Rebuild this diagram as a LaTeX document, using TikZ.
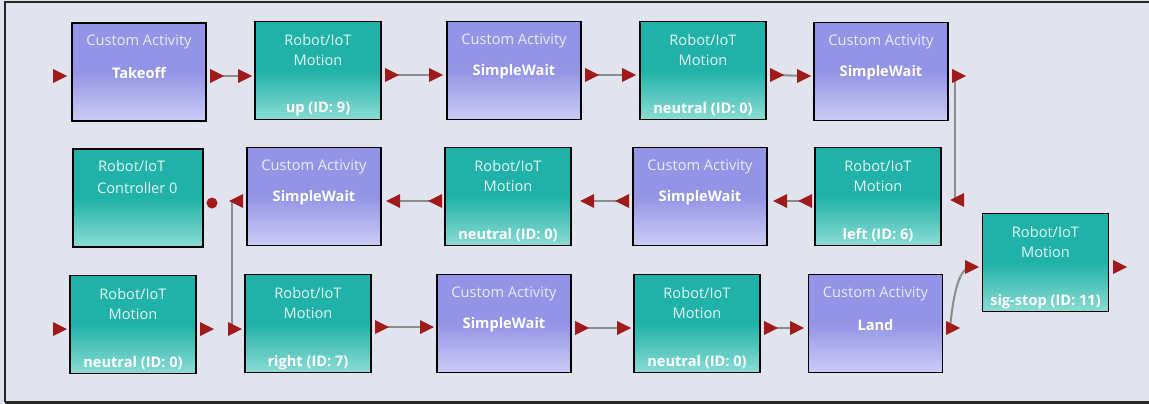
\documentclass[tikz,border=0pt]{standalone}
\usepackage{fontspec}
\setmainfont{Open Sans}
\pgfdeclarelayer{bg}
\pgfdeclarelayer{conn}
\pgfsetlayers{bg,conn,main}
\definecolor{pagebg}{HTML}{E1E4EE}
\definecolor{actTop}{HTML}{9494E6}
\definecolor{actBot}{HTML}{CCCCF6}
\definecolor{motTop}{HTML}{20B2A8}
\definecolor{motBot}{HTML}{8CDCD4}
\definecolor{actText}{HTML}{EAEAFF}
\definecolor{motText}{HTML}{E4F8F4}
\definecolor{portred}{HTML}{A01A1A}
\definecolor{conngray}{HTML}{8C8C8C}
\tikzset{
  boxbase/.style={draw=black, line width=1.8pt, inner sep=0pt, minimum height=98pt},
  actbox/.style={boxbase, minimum width=134pt, top color=actTop, bottom color=actBot, middle color=actTop},
  motbox/.style={boxbase, minimum width=126pt, top color=motTop, bottom color=motBot, middle color=motTop},
  acttitle/.style={inner sep=0pt, text=actText, font=\fontsize{14.6}{16}\selectfont},
  actname/.style={inner sep=0pt, text=white, font=\fontsize{14.6}{16}\selectfont\bfseries},
  mottitle/.style={inner sep=0pt, text=motText, font=\fontsize{14.6}{16}\selectfont},
  motname/.style={inner sep=0pt, text=white, font=\fontsize{14.6}{16}\selectfont\bfseries},
  portbase/.style={minimum width=14pt, minimum height=14pt, inner sep=0pt, outer sep=0pt},
  pr/.style={portbase, path picture={\fill[portred] (path picture bounding box.north west) -- (path picture bounding box.east) -- (path picture bounding box.south west) -- cycle;}},
  pl/.style={portbase, path picture={\fill[portred] (path picture bounding box.north east) -- (path picture bounding box.west) -- (path picture bounding box.south east) -- cycle;}},
  conn/.style={draw=conngray, line width=2pt},
  frameline/.style={draw=black!85, line width=2.2pt},
}
\newcommand\ActBox[4]{%
  \node[actbox] (#1) at (#2,#3) {};
  \node[acttitle] (#1-t) at ([yshift=-20pt]#1.north) {Custom Activity};
  \node[actname] (#1-n) at ([yshift=-51pt]#1.north) {#4};
}
\newcommand\MotBox[4]{%
  \node[motbox] (#1) at (#2,#3) {};
  \node[mottitle] (#1-t) at ([yshift=-19pt]#1.north) {Robot/IoT};
  \node[mottitle] (#1-m) at ([yshift=-40pt]#1.north) {Motion};
  \node[motname] (#1-n) at ([yshift=11pt]#1.south) {#4};
}
\begin{document}
\begin{tikzpicture}[x=1pt,y=-1pt]
\useasboundingbox (0,0) rectangle (1149,404);
\begin{pgfonlayer}{bg}
  \fill[pagebg] (0,0) rectangle (1149,404);
\end{pgfonlayer}
\draw[frameline] (5,402) -- (5,2) -- (1149,2);
\draw[frameline, line width=3pt] (5,402) -- (1149,402);

% row 1
\ActBox{a1}{139}{72}{Takeoff}
\MotBox{m1}{318}{70.5}{up (ID: 9)}
\ActBox{a2}{514}{70.5}{SimpleWait}
\MotBox{m2}{703}{70.5}{neutral (ID: 0)}
\ActBox{a3}{881}{71.5}{SimpleWait}
% row 2
\node[motbox, minimum width=130pt] (c0) at (138,198) {};
\node[mottitle, anchor=west] (c0-t) at (98,166) {Robot/IoT};
\node[mottitle, anchor=west] (c0-m) at (97,188) {Controller 0};
\node[circle, fill=portred, minimum size=11pt, inner sep=0pt] (c0p) at (212,203) {};
\ActBox{a4}{314}{196.5}{SimpleWait}
\MotBox{m3}{508}{196.5}{neutral (ID: 0)}
\ActBox{a5}{700}{196.5}{SimpleWait}
\MotBox{m4}{878}{196.5}{left (ID: 6)}
% row 3
\MotBox{m5}{133}{324.5}{neutral (ID: 0)}
\MotBox{m6}{308}{323.5}{right (ID: 7)}
\ActBox{a6}{504}{323.5}{SimpleWait}
\MotBox{m7}{697}{323.5}{neutral (ID: 0)}
\ActBox{a7}{875.5}{323.5}{Land}
\MotBox{m8}{1045.5}{262.5}{sig-stop (ID: 11)}

% ports row 1
\node[pr] (a1i) at (60,76) {};
\node[pr] (a1o) at (217,76) {};
\node[pr] (m1i) at (245,76) {};
\node[pr] (m1o) at (392,75) {};
\node[pr] (a2i) at (436,75) {};
\node[pr] (a2o) at (592,75) {};
\node[pr] (m2i) at (629,75) {};
\node[pr] (m2o) at (777,75) {};
\node[pr] (a3i) at (804,76) {};
\node[pr] (a3o) at (959,76) {};
% ports row 2
\node[pl] (m4i) at (957,200) {};
\node[pl] (m4o) at (805,201) {};
\node[pl] (a5i) at (780,201) {};
\node[pl] (a5o) at (622,201) {};
\node[pl] (m3i) at (587,201) {};
\node[pl] (m3o) at (435,201) {};
\node[pl] (a4i) at (393,201) {};
\node[pl] (a4o) at (236,201) {};
% ports row 3
\node[pr] (m5i) at (60,329) {};
\node[pr] (m5o) at (207,329) {};
\node[pr] (m6i) at (235,329) {};
\node[pr] (m6o) at (382,327) {};
\node[pr] (a6i) at (427,327) {};
\node[pr] (a6o) at (582,328) {};
\node[pr] (m7i) at (624,328) {};
\node[pr] (m7o) at (771,328) {};
\node[pr] (a7i) at (797,328) {};
\node[pr] (a7o) at (953,328) {};
\node[pr] (m8i) at (972,267) {};
\node[pr] (m8o) at (1120,267) {};

\begin{pgfonlayer}{conn}
  \draw[conn] (a1o.center) -- (m1i.center);
  \draw[conn] (m1o.center) -- (a2i.center);
  \draw[conn] (a2o.center) -- (m2i.center);
  \draw[conn] (m2o.center) -- (a3i.center);
  \draw[conn] ([xshift=3pt]a3o.west) -- ([xshift=3pt]a3o.west |- m4i.center);
  \draw[conn] (m4o.center) -- (a5i.center);
  \draw[conn] (a5o.center) -- (m3i.center);
  \draw[conn] (m3o.center) -- (a4i.center);
  \draw[conn] ([xshift=3pt]a4o.west) -- ([xshift=3pt]a4o.west |- m6i.center);
  \draw[conn] (m6o.center) -- (a6i.center);
  \draw[conn] (a6o.center) -- (m7i.center);
  \draw[conn] (m7o.center) -- (a7i.center);
  \draw[conn] ([xshift=4pt]a7o.west) .. controls +(4,-40) and +(-12,0) .. (m8i.center);
\end{pgfonlayer}
\end{tikzpicture}
\end{document}
